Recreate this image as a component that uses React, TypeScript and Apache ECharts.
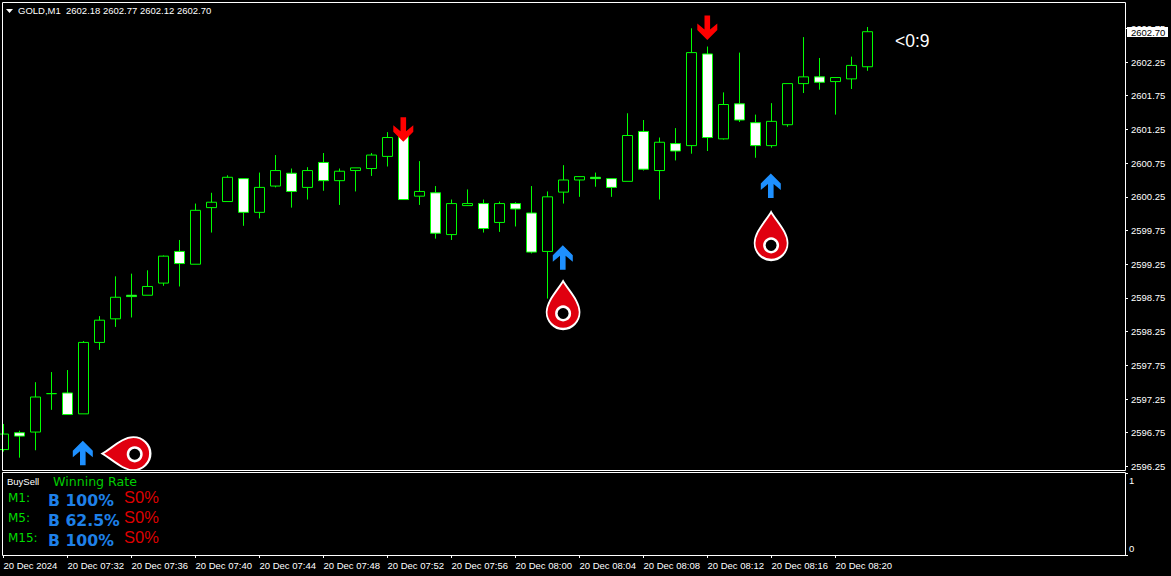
import React, { useEffect, useRef } from "react";
import * as echarts from "echarts";

const opens = [2596.50,2596.75,2596.76,2597.33,2597.34,2597.03,2598.09,2598.44,2598.79,2598.79,2598.97,2599.44,2599.25,2600.09,2600.18,2600.52,2600.02,2600.41,2600.60,2600.39,2600.76,2600.49,2600.64,2600.67,2600.85,2601.15,2600.26,2600.31,2599.69,2600.12,2600.15,2599.87,2600.15,2600.01,2599.44,2600.32,2600.50,2600.54,2600.52,2600.48,2601.22,2600.64,2601.04,2601.01,2602.37,2601.11,2601.63,2601.35,2601.01,2601.32,2601.93,2602.03,2601.96,2602.00,2602.18];
const closes = [2596.73,2596.70,2597.28,2597.33,2597.02,2598.09,2598.42,2598.76,2598.77,2598.92,2599.37,2599.26,2600.05,2600.17,2600.54,2600.02,2600.39,2600.64,2600.33,2600.64,2600.49,2600.63,2600.68,2600.87,2601.13,2600.21,2600.33,2599.71,2600.15,2600.15,2599.78,2600.15,2600.07,2599.43,2600.25,2600.50,2600.55,2600.52,2600.39,2601.16,2600.66,2601.06,2600.93,2602.39,2601.13,2601.62,2601.39,2601.01,2601.37,2601.93,2602.03,2601.95,2602.02,2602.20,2602.70];
const lows = [2596.47,2596.38,2596.49,2597.09,2597.02,2597.03,2597.98,2598.32,2598.46,2598.79,2598.93,2598.92,2599.25,2599.72,2600.18,2599.82,2599.93,2600.39,2600.09,2600.21,2600.34,2600.13,2600.33,2600.56,2600.70,2600.21,2600.13,2599.63,2599.61,2600.12,2599.72,2599.73,2599.81,2599.41,2598.74,2600.15,2600.25,2600.40,2600.25,2600.48,2600.64,2600.21,2600.79,2600.89,2600.93,2601.10,2601.36,2600.83,2600.98,2601.29,2601.79,2601.84,2601.47,2601.85,2602.12];
const highs = [2596.88,2596.78,2597.50,2597.65,2597.68,2598.11,2598.48,2599.07,2599.11,2599.16,2599.38,2599.61,2600.15,2600.31,2600.57,2600.52,2600.61,2600.87,2600.67,2600.69,2600.90,2600.67,2600.68,2600.90,2601.21,2601.20,2600.78,2600.41,2600.21,2600.36,2600.21,2600.18,2600.17,2600.41,2600.33,2600.72,2600.55,2600.61,2600.52,2601.49,2601.39,2601.13,2601.27,2602.75,2602.48,2601.80,2602.39,2601.47,2601.64,2601.93,2602.62,2602.31,2602.02,2602.33,2602.77];

const tickLabels = ["20 Dec 2024","20 Dec 07:32","20 Dec 07:36","20 Dec 07:40","20 Dec 07:44","20 Dec 07:48","20 Dec 07:52","20 Dec 07:56","20 Dec 08:00","20 Dec 08:04","20 Dec 08:08","20 Dec 08:12","20 Dec 08:16","20 Dec 08:20"];
const priceTicks = [2596.25,2596.75,2597.25,2597.75,2598.25,2598.75,2599.25,2599.75,2600.25,2600.75,2601.25,2601.75,2602.25,2602.75];
const buyArrows = [[5,2596.45],[35,2599.35],[48,2600.415]];
const sellArrows = [[25,2601.25],[44,2602.76]];
const uprightPins = [[35,2598.645],[48,2599.67]];
const uprightRings = [[35,2598.52],[48,2599.53]];
const sidePin = [[8,2596.44]];
const sideRing = [[8,2596.43]];
const lastPrice = "2602.70";
const symbolName = "GOLD,M1";
const ohlcText = "2602.18 2602.77 2602.12 2602.70";
const timers = "<0:9";
const rateRows = [
  { tf: "M1:", buy: "B 100%", sell: "S0%" },
  { tf: "M5:", buy: "B 62.5%", sell: "S0%" },
  { tf: "M15:", buy: "B 100%", sell: "S0%" },
];

const slotCount = 71;
const categories = Array.from({ length: slotCount }, (_, i) => (i % 4 === 0 && tickLabels[i / 4]) || "");
const showTick = (i: number) => i % 4 === 0 && i / 4 < tickLabels.length;

const ARROW = "path://M10 0 L20 10 L20 16.5 L12.8 10.5 L12.8 24.5 L7.2 24.5 L7.2 10.5 L0 16.5 L0 10 Z";
const PIN = "path://M50 0 C68 30 100 60 100 92 A50 50 0 1 1 0 92 C0 60 32 30 50 0 Z";
const SMALL = '"Liberation Sans", sans-serif';
const SMALL_SIZE = 9.5;

export default function App() {
  const ref = useRef<HTMLDivElement>(null);
  useEffect(() => {
    document.body.style.margin = "0";
    document.body.style.background = "#000";
    const chart = echarts.init(ref.current!, null, { renderer: "svg" });
    const txt = (text: string, x: number, y: number, fill: string, font: string) => ({
      type: "text", z: 50, silent: true,
      style: { text, x, y, fill, font, verticalAlign: "middle", align: "left" },
    });
    const pinStyle = { color: "#e0000f", borderColor: "#fff", borderWidth: 2, opacity: 1 };
    const ringStyle = { color: "#000", borderColor: "#fff", borderWidth: 2.5, opacity: 1 };
    const scatter = (data: number[][], extra: any) => ({
      type: "scatter", xAxisIndex: 0, yAxisIndex: 0, data, silent: true, clip: false, ...extra,
    });
    chart.setOption({
      animation: false,
      backgroundColor: "#000",
      grid: [
        { left: 3.5, top: 3, width: 1120, height: 467, outerBoundsMode: "none" },
        { left: 3.5, top: 473, width: 1120, height: 82, outerBoundsMode: "none" },
      ],
      xAxis: [
        { type: "category", gridIndex: 0, boundaryGap: false, data: categories, show: false },
        {
          type: "category", gridIndex: 1, boundaryGap: false, data: categories,
          axisLine: { show: false },
          axisTick: { show: true, length: 3, interval: showTick, lineStyle: { color: "#fff" } },
          axisLabel: { interval: showTick, align: "left", color: "#fff", fontFamily: SMALL, fontSize: SMALL_SIZE, margin: 5, hideOverlap: false },
        },
      ],
      yAxis: [
        {
          type: "value", gridIndex: 0, position: "right", offset: 1.5, min: 2596.197, max: 2603.126,
          splitLine: { show: false }, axisLine: { show: false },
          axisTick: { show: true, length: 3, lineStyle: { color: "#fff" }, customValues: priceTicks },
          axisLabel: { color: "#fff", fontFamily: SMALL, fontSize: SMALL_SIZE, margin: 6, customValues: priceTicks, formatter: (v: number) => v.toFixed(2) },
        },
        {
          type: "value", gridIndex: 1, position: "right", offset: 1.5, min: 0, max: 1, interval: 1,
          splitLine: { show: false }, axisLine: { show: false },
          axisTick: { show: true, length: 3, lineStyle: { color: "#fff" } },
          axisLabel: { color: "#fff", fontFamily: SMALL, fontSize: SMALL_SIZE, margin: 4, padding: [2, 0, 2, 0], verticalAlignMinLabel: "bottom", verticalAlignMaxLabel: "top" },
        },
      ],
      series: [
        {
          type: "candlestick", xAxisIndex: 0, yAxisIndex: 0, barWidth: 10, silent: true,
          data: opens.map((o, i) => [o, closes[i], lows[i], highs[i]]),
          itemStyle: { color: "#000", color0: "#fff", borderColor: "#00ff00", borderColor0: "#00ff00", borderWidth: 1, opacity: 1 },
        },
        scatter(buyArrows, { symbol: ARROW, symbolSize: [20, 24.5], symbolOffset: [-0.7, 0], itemStyle: { color: "#1e90ff", opacity: 1 } }),
        scatter(sellArrows, { symbol: ARROW, symbolSize: [20, 24.5], symbolOffset: [-0.2, 0], symbolRotate: 180, itemStyle: { color: "#ff0000", opacity: 1 } }),
        scatter(uprightPins, { symbol: PIN, symbolSize: [33, 48], symbolOffset: [-0.4, 0], itemStyle: pinStyle }),
        scatter(sidePin, { symbol: PIN, symbolSize: [33, 48], symbolRotate: 90, symbolOffset: [-5.2, 0], itemStyle: pinStyle }),
        scatter(uprightRings, { symbol: "circle", symbolSize: 13.5, symbolOffset: [-0.4, 0], itemStyle: ringStyle }),
        scatter(sideRing, { symbol: "circle", symbolSize: 13.5, symbolOffset: [3.2, 0], itemStyle: ringStyle }),
      ],
      graphic: [
        { type: "rect", z: 40, silent: true, shape: { x: 2.5, y: 2.5, width: 1123, height: 468 }, style: { fill: "transparent", stroke: "#fff", lineWidth: 1 } },
        { type: "rect", z: 40, silent: true, shape: { x: 2.5, y: 472.5, width: 1123, height: 83 }, style: { fill: "transparent", stroke: "#fff", lineWidth: 1 } },
        { type: "polygon", z: 50, silent: true, shape: { points: [[6, 9], [13, 9], [9.5, 13]] }, style: { fill: "#fff" } },
        txt(symbolName, 18, 10.5, "#fff", `${SMALL_SIZE}px ${SMALL}`),
        txt(ohlcText, 66, 10.5, "#fff", `${SMALL_SIZE}px ${SMALL}`),
        txt(timers, 895, 41, "#fff", '17.5px "Liberation Sans", sans-serif'),
        { type: "rect", z: 45, silent: true, shape: { x: 1127, y: 27, width: 41, height: 10 }, style: { fill: "#fff" } },
        txt(lastPrice, 1131, 32, "#000", `${SMALL_SIZE}px ${SMALL}`),
        txt("BuySell", 7, 481.5, "#fff", `${SMALL_SIZE}px ${SMALL}`),
        txt("Winning Rate", 53, 481, "#00cc00", '12.6px "DejaVu Sans", sans-serif'),
        ...rateRows.flatMap((r, i) => [
          txt(r.tf, 8, 498 + i * 20, "#00dd00", '12px "DejaVu Sans", sans-serif'),
          txt(r.buy, 48, 500 + i * 20, "#1e80e8", 'bold 15.7px "DejaVu Sans", sans-serif'),
          txt(r.sell, 124, 497 + i * 20, "#dd0000", '16.5px "Liberation Sans", sans-serif'),
        ]),
      ],
    });
    return () => chart.dispose();
  }, []);
  return <div ref={ref} style={{ width: 1171, height: 576, background: "#000" }} />;
}
